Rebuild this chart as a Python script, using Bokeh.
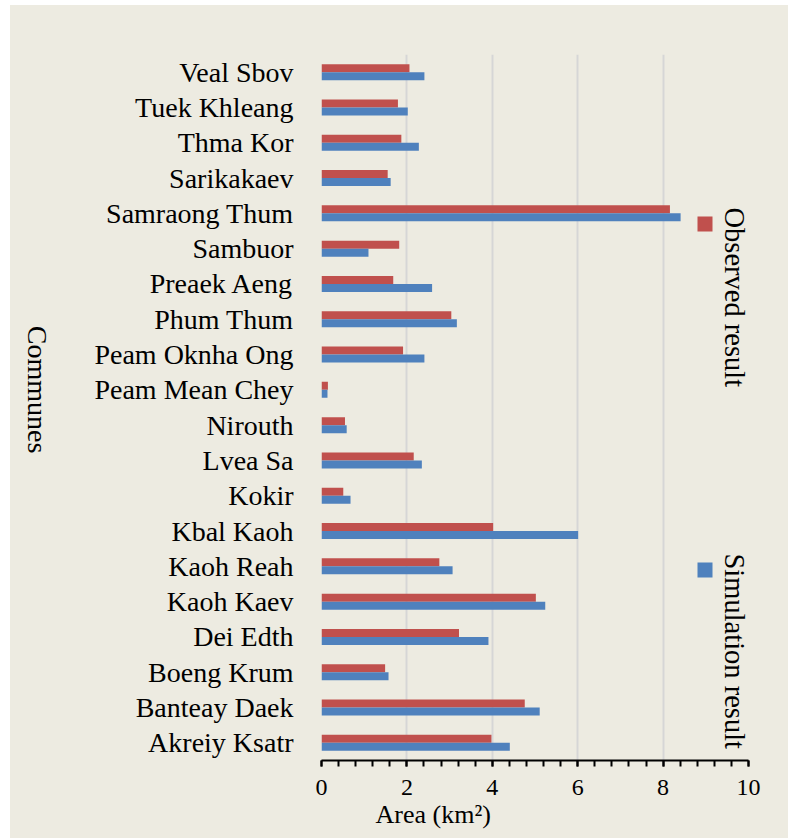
import math
from bokeh.plotting import figure
from bokeh.layouts import row
from bokeh.models import (ColumnDataSource, FactorRange, Range1d, Label, Title,
                          SingleIntervalTicker, BoxAnnotation)
from bokeh.transform import dodge
from bokeh.embed import file_html
from bokeh.resources import INLINE

# ---- data (bottom to top, as drawn) ----
communes = ["Akreiy Ksatr", "Banteay Daek", "Boeng Krum", "Dei Edth", "Kaoh Kaev",
            "Kaoh Reah", "Kbal Kaoh", "Kokir", "Lvea Sa", "Nirouth",
            "Peam Mean Chey", "Peam Oknha Ong", "Phum Thum", "Preaek Aeng", "Sambuor",
            "Samraong Thum", "Sarikakaev", "Thma Kor", "Tuek Khleang", "Veal Sbov"]
observed = [3.98, 4.76, 1.49, 3.22, 5.02, 2.76, 4.02, 0.51, 2.16, 0.55,
            0.15, 1.91, 3.04, 1.68, 1.82, 8.16, 1.55, 1.87, 1.79, 2.06]
simulated = [4.41, 5.11, 1.57, 3.91, 5.24, 3.07, 6.01, 0.68, 2.35, 0.59,
             0.14, 2.41, 3.17, 2.59, 1.10, 8.41, 1.62, 2.28, 2.02, 2.41]
series_names = ["Observed result", "Simulation result"]
x_min, x_max, x_step = 0, 10, 2

RED = "#C0504D"
BLUE = "#4F81BD"
BG = "#EDEBE1"
FONT = "Liberation Serif"

H = 833
LW = 60  # width of the strip holding the rotated y title

src = ColumnDataSource(dict(commune=communes, observed=observed, simulated=simulated))

p = figure(width=778 - LW, height=H,
           y_range=FactorRange(factors=communes),
           x_range=Range1d(x_min, x_max),
           output_backend="svg", toolbar_location=None,
           min_border_left=311 - LW, min_border_right=40,
           min_border_top=49, min_border_bottom=78)

p.background_fill_color = BG
p.border_fill_color = BG
p.outline_line_color = None

bh = 0.227
p.hbar(y=dodge("commune", bh / 2, range=p.y_range), left=0, right="observed",
       height=bh, fill_color=RED, line_color=None, source=src)
p.hbar(y=dodge("commune", -bh / 2, range=p.y_range), left=0, right="simulated",
       height=bh, fill_color=BLUE, line_color=None, source=src)

# x axis
xa = p.xaxis[0]
xa.ticker = SingleIntervalTicker(interval=x_step, num_minor_ticks=5)
xa.axis_line_color = "black"
xa.axis_line_width = 2
xa.major_tick_line_color = "black"
xa.major_tick_line_width = 2
xa.minor_tick_line_color = "black"
xa.minor_tick_line_width = 2
xa.major_tick_in = 0
xa.major_tick_out = 6
xa.minor_tick_in = 0
xa.minor_tick_out = 6
xa.major_label_text_font = FONT
xa.major_label_text_font_size = "24px"
xa.major_label_text_color = "black"
xa.major_label_standoff = 13

# y axis
ya = p.yaxis[0]
ya.axis_line_color = None
ya.major_tick_line_color = None
ya.minor_tick_line_color = None
ya.major_label_text_font = FONT
ya.major_label_text_font_size = "28px"
ya.major_label_text_color = "black"
ya.major_label_standoff = 22

p.xgrid.grid_line_color = "#D6D6D6"
p.xgrid.grid_line_width = 2
p.ygrid.grid_line_color = None

# x axis title (left-shifted like the reference)
p.add_layout(Title(text="Area (km²)", align="left", offset=54, standoff=1,
                   text_font=FONT, text_font_size="26px", text_font_style="normal",
                   text_color="black"), "below")

# legend (rotated)
p.add_layout(BoxAnnotation(left=376, right=391, top=544, bottom=529,
                           left_units="screen", right_units="screen",
                           top_units="screen", bottom_units="screen",
                           fill_color=RED, fill_alpha=1, line_color=None))
p.add_layout(BoxAnnotation(left=376, right=391, top=198, bottom=183,
                           left_units="screen", right_units="screen",
                           top_units="screen", bottom_units="screen",
                           fill_color=BLUE, fill_alpha=1, line_color=None))
p.add_layout(Label(x=413, y=553, x_units="screen", y_units="screen", text=series_names[0],
                   angle=-math.pi / 2, text_align="left", text_baseline="middle",
                   text_font=FONT, text_font_size="28.5px", text_color="black"))
p.add_layout(Label(x=413, y=207, x_units="screen", y_units="screen", text=series_names[1],
                   angle=-math.pi / 2, text_align="left", text_baseline="middle",
                   text_font=FONT, text_font_size="28.5px", text_color="black"))

# strip on the left holding the y-axis title, reading top to bottom
lf = figure(width=LW, height=H, x_range=Range1d(0, 1), y_range=Range1d(0, 1),
            output_backend="svg", toolbar_location=None,
            x_axis_location=None, y_axis_location=None,
            min_border_left=0, min_border_right=0, min_border_top=0, min_border_bottom=0)
lf.background_fill_color = None
lf.border_fill_color = None
lf.outline_line_color = None
lf.grid.visible = False
lf.add_layout(Label(x=27, y=371, x_units="screen", y_units="screen", text="Communes",
                    angle=-math.pi / 2, text_align="center", text_baseline="middle",
                    text_font=FONT, text_font_size="28px", text_color="black"))

layout = row(lf, p, spacing=0, margin=(5, 0, 0, 10),
             styles={"background-color": BG})

open("out.html", "w").write(file_html(layout, INLINE))
